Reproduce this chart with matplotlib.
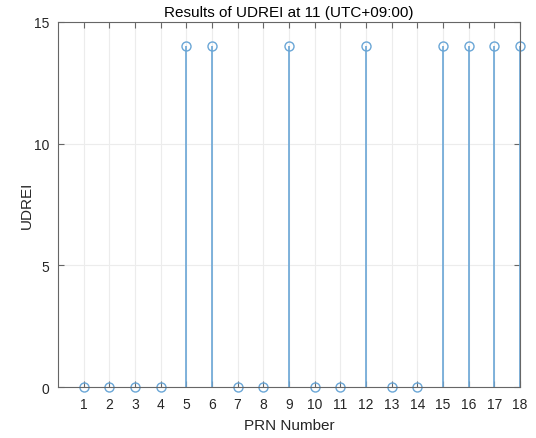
import matplotlib
matplotlib.use("Agg")
import matplotlib.pyplot as plt

plt.rcParams["font.family"] = ["Liberation Sans", "DejaVu Sans"]

prn = list(range(1, 19))
udrei = [0, 0, 0, 0, 14, 14, 0, 0, 14, 0, 0, 14, 0, 0, 14, 14, 14, 14]

stem_col = "#6aa6d6"
axis_col = "#666666"

fig = plt.figure(figsize=(5.36, 4.39), dpi=100)
ax = fig.add_axes([0.108, 0.116, 0.862, 0.832])

ml, sl, bl = ax.stem(prn, udrei, basefmt=" ")
plt.setp(sl, color=stem_col, linewidth=1.2)
plt.setp(ml, marker="o", markersize=6.5, markerfacecolor="none",
         markeredgecolor=stem_col, markeredgewidth=1.0)
ml.set_clip_on(False)

ax.set_xlim(0, 18)
ax.set_ylim(0, 15)
ax.set_xticks(prn)
ax.set_yticks([0, 5, 10, 15])
ax.grid(True, color="#ececec", linewidth=0.8)
ax.set_axisbelow(True)

for s in ax.spines.values():
    s.set_color(axis_col)
    s.set_linewidth(0.8)
ax.tick_params(direction="in", top=True, right=True, colors=axis_col,
               labelcolor="#262626", labelsize=10, length=4)
ax.tick_params(axis="x", pad=7)
ax.tick_params(axis="y", pad=6)

ax.set_xlabel("PRN Number", fontsize=11, color="#262626", labelpad=5)
ax.set_ylabel("UDREI", fontsize=11, color="#262626", labelpad=0)
ax.set_title("Results of UDREI at 11 (UTC+09:00)", fontsize=11, color="#000000", pad=4)

fig.savefig("out.png", dpi=100)
